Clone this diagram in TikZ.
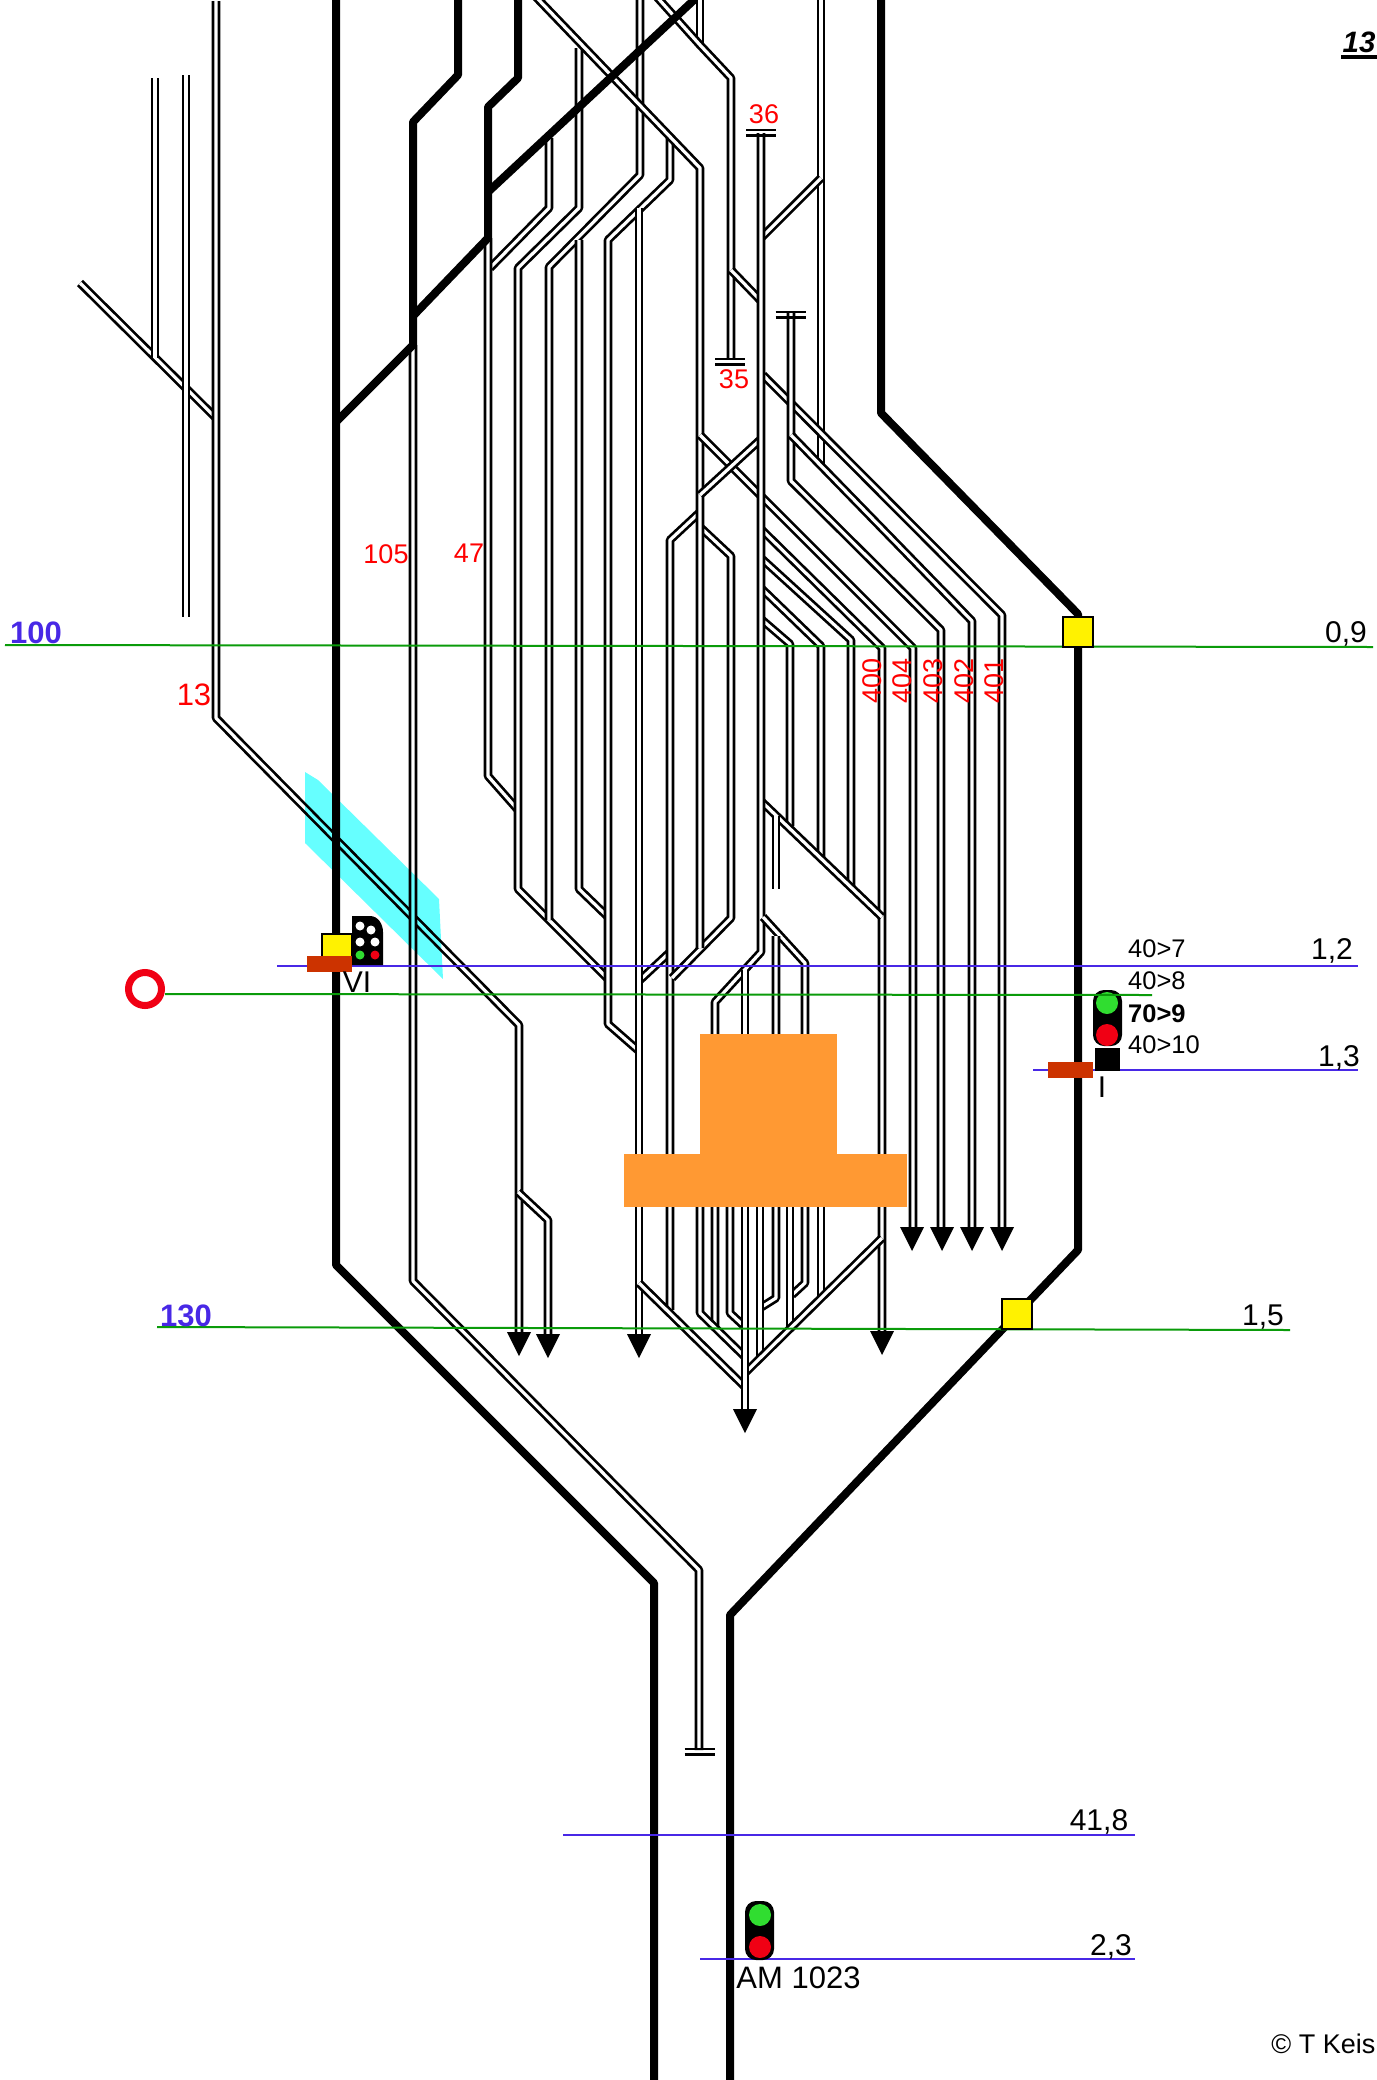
\documentclass[tikz,border=0pt]{standalone}
\usepackage{fontspec}
\setmainfont{Liberation Sans}
\newcommand{\fsize}[1]{\fontsize{#1}{#1}\selectfont}
\definecolor{linegreen}{RGB}{10,155,10}
\definecolor{lineblue}{RGB}{72,40,230}
\definecolor{platform}{RGB}{255,153,51}
\definecolor{barred}{RGB}{204,51,0}
\definecolor{lampgreen}{RGB}{48,221,48}
\definecolor{lampred}{RGB}{240,0,20}
\definecolor{bridge}{RGB}{102,255,255}
\tikzset{
    track/.style={black,double=white,double distance=3.2pt,line width=2.7pt,line join=bevel},
    mainline/.style={black,line width=8pt,line join=bevel},
    kmgreen/.style={linegreen,line width=2pt},
    kmblue/.style={lineblue,line width=2pt},
    lbl/.style={inner sep=0pt,anchor=base,font=\fsize{30}},
    lblred/.style={lbl,red,font=\fsize{27}},
    lblkm/.style={lbl,lineblue,font=\fsize{31}\bfseries},
    lblspeed/.style={inner sep=0pt,anchor=base west,font=\fsize{25.5}},
    yellowbox/.style={draw=black,line width=2pt,fill=yellow,minimum size=30pt,inner sep=0pt},
    stoparrow/.pic={\fill[black] (-12,0) -- (12,0) -- (0,24) -- cycle;},
    bumper/.pic={\draw[black,line width=2.7pt] (-15,0) -- (15,0) (-15,5.5) -- (15,5.5);}
}
\begin{document}
\begin{tikzpicture}[x=1pt,y=-1pt]
    \useasboundingbox (0,0) rectangle (1376,2080);
    % Left sidings
    \draw[track] (80,283) -- (216,418);
    \draw[track] (155,78) -- (155,358);
    \draw[track] (186,75) -- (186,617);
    \draw[track] (216,1) -- (216,718) -- (519,1025) -- (519,1332);
    \draw[track] (518,1192) -- (548,1220) -- (548,1335);
    \draw[track] (413,345) -- (413,1281) -- (699,1570) -- (699,1750);
    % Yard, left half
    \draw[track] (549,138) -- (549,208) -- (490,268);
    \draw[track] (488,238) -- (488,776) -- (518,810);
    \draw[track] (579,48) -- (579,208) -- (518,268) -- (518,889) -- (608,979);
    \draw[track] (640,-4) -- (640,175) -- (549,267) -- (549,920);
    \draw[track] (579,240) -- (579,889) -- (608,917);
    \draw[track] (670,138) -- (670,180) -- (608,240) -- (608,1024) -- (640,1052);
    \draw[track] (670,952) -- (640,980);
    \draw[track] (639,208) -- (639,1335);
    % Yard, middle
    \draw[track] (700,512) -- (670,540) -- (670,1310);
    \draw[track] (700,527) -- (731,556) -- (731,918) -- (672,978);
    \draw[track] (535,-4) -- (700,168) -- (700,948);
    \draw[track] (700,-4) -- (700,45);
    \draw[track] (656,-4) -- (700,45) -- (731,78) -- (731,358);
    \draw[track] (731,270) -- (760,300);
    \draw[track] (821,-4) -- (821,465);
    \draw[track] (821,178) -- (761,238);
    % Fan to the platforms
    \draw[track] (763,375) -- (1002,615) -- (1002,1227);
    \draw[track] (791,313) -- (791,481) -- (941,630) -- (941,1227);
    \draw[track] (791,435) -- (972,621) -- (972,1227);
    \draw[track] (700,435) -- (913,648) -- (913,1227);
    \draw[track] (761,439) -- (700,495);
    \draw[track] (761,529) -- (882,648) -- (882,1332);
    \draw[track] (761,558) -- (851,640) -- (851,889);
    \draw[track] (761,588) -- (821,646) -- (821,858);
    \draw[track] (761,619) -- (790,644) -- (790,826);
    \draw[track] (761,801) -- (882,917);
    \draw[track] (776,816) -- (776,889);
    \draw[track] (761,133) -- (761,952) -- (715,1002) -- (715,1327);
    \draw[track] (763,917) -- (805,963) -- (805,1283) -- (792,1295);
    \draw[track] (776,936) -- (776,1298) -- (760,1308);
    % Throat below the platform
    \draw[track] (700,1180) -- (700,1313) -- (745,1357);
    \draw[track] (730,1180) -- (730,1313) -- (745,1327);
    \draw[track] (760,1180) -- (760,1357);
    \draw[track] (790,1180) -- (790,1328);
    \draw[track] (821,1180) -- (821,1297);
    \draw[track] (882,1238) -- (746,1372);
    \draw[track] (639,1283) -- (745,1387);
    \draw[track] (745,970) -- (745,1409);
    % Main lines
    \draw[mainline] (336,-4) -- (336,1265) -- (654,1583) -- (654,2084);
    \draw[mainline] (458,-4) -- (458,75) -- (413,122) -- (413,345) -- (336,422);
    \draw[mainline] (518,-4) -- (518,78) -- (488,107) -- (488,238) -- (413,316);
    \draw[mainline] (488,192) -- (695,-1);
    \draw[mainline] (881,-4) -- (881,413) -- (1078,614) -- (1078,1250) -- (730,1615) -- (730,2084);
    % Bumpers and arrows
    \foreach \x/\y in {761/130,730/359,790.5/312,699.5/1749}
        \pic at (\x,\y) {bumper};
    \foreach \x/\y in {519/1332,548/1334,639/1334,882/1331,745/1409,912/1227,942/1227,972/1227,1002/1227}
        \pic at (\x,\y) {stoparrow};
    % Platform and bridge
    \fill[bridge,blend mode=multiply] (305,772) -- (318,780) -- (439,899) -- (443,979) -- (305,843) -- cycle;
    \fill[platform] (700,1034) rectangle (837,1154);
    \fill[platform] (624,1154) rectangle (907,1207);
    % Km lines
    \draw[kmgreen] (5,645) -- (1373,647);
    \draw[kmgreen] (157,1327) -- (1290,1330);
    \draw[kmblue] (277,966) -- (1358,966);
    \draw[kmblue] (1033,1070) -- (1358,1070);
    \draw[kmblue] (563,1835) -- (1135,1835);
    \draw[kmblue] (700,1959) -- (1135,1959);
    % Signal VI
    \fill[black] (352,916) -- (370,916) .. controls (378,916) and (383,924) .. (383,932) -- (383,965) -- (352,965) -- cycle;
    \foreach \x/\y in {360/926,371/930,360/942,375/942}
        \fill[white] (\x,\y) circle[radius=4.5];
    \fill[lampgreen] (360,955) circle[radius=4.5];
    \fill[lampred] (375,955) circle[radius=4.5];
    \node[yellowbox] (boxvi) at (336.5,949) {};
    \fill[barred] (307,956) rectangle (352,972);
    % Signal I
    \fill[black,rounded corners=11pt] (1093,990) rectangle (1122,1046);
    \fill[lampgreen] (1107,1003) circle[radius=11];
    \fill[lampred] (1107,1035) circle[radius=11];
    \fill[black] (1095,1048) rectangle (1120,1071);
    \fill[barred] (1048,1062) rectangle (1093,1078);
    % Signal AM
    \fill[black,rounded corners=11pt] (745,1901) rectangle (774,1960);
    \fill[lampgreen] (760,1915) circle[radius=11];
    \fill[lampred] (760,1947) circle[radius=11];
    \draw[kmgreen] (165,994) -- (1152,995);
    \draw[line width=7pt,lampred,fill=white] (145,989) circle[radius=16.5];
    \node[yellowbox] (boxtop) at (1078,632) {};
    \node[yellowbox] (boxlow) at (1017,1314) {};
    % Labels
    \node[lblkm] (kmhundred) at (36,643) {100};
    \node[lblkm] (kmthirty) at (186,1326) {130};
    \node[lblred,font=\fsize{31}] (nthree) at (194,705) {13};
    \node[lblred] (nfive) at (386,563) {105};
    \node[lblred] (nseven) at (469,562) {47};
    \node[lblred] (nsix) at (764,123) {36};
    \node[lblred] (nthirty) at (734,388) {35};
    \foreach \x/\t in {881/400,911/404,942/403,973/402,1003/401}
        \node[lblred,rotate=90] (n\t) at (\x,681) {\t};
    \node[lbl] (kma) at (1346,642) {0,9};
    \node[lbl] (kmb) at (1332,959) {1,2};
    \node[lbl] (kmc) at (1339,1066) {1,3};
    \node[lbl] (kmd) at (1263,1325) {1,5};
    \node[lbl] (kme) at (1099,1830) {41,8};
    \node[lbl] (kmf) at (1111,1955) {2,3};
    \node[lblspeed] (spa) at (1128,957) {40>7};
    \node[lblspeed] (spb) at (1128,989) {40>8};
    \node[lblspeed,font=\fsize{25.5}\bfseries] (spc) at (1128,1022) {70>9};
    \node[lblspeed] (spd) at (1128,1053) {40>10};
    \node[lbl] (sigvi) at (357,992) {VI};
    \node[lbl] (sigi) at (1102,1097) {I};
    \node[lbl,font=\fsize{31}] (sigam) at (798.5,1988) {AM 1023};
    \node[inner sep=0pt,anchor=base east,font=\fsize{27}] (credit) at (1375.5,2053) {© T Keis};
    \node[inner sep=0pt,anchor=base west,font=\fsize{29.5}\bfseries\itshape] (page) at (1342.5,52) {13};
    \draw[black,line width=3.5pt] (1341,57) -- (1380,57);
\end{tikzpicture}
\end{document}
